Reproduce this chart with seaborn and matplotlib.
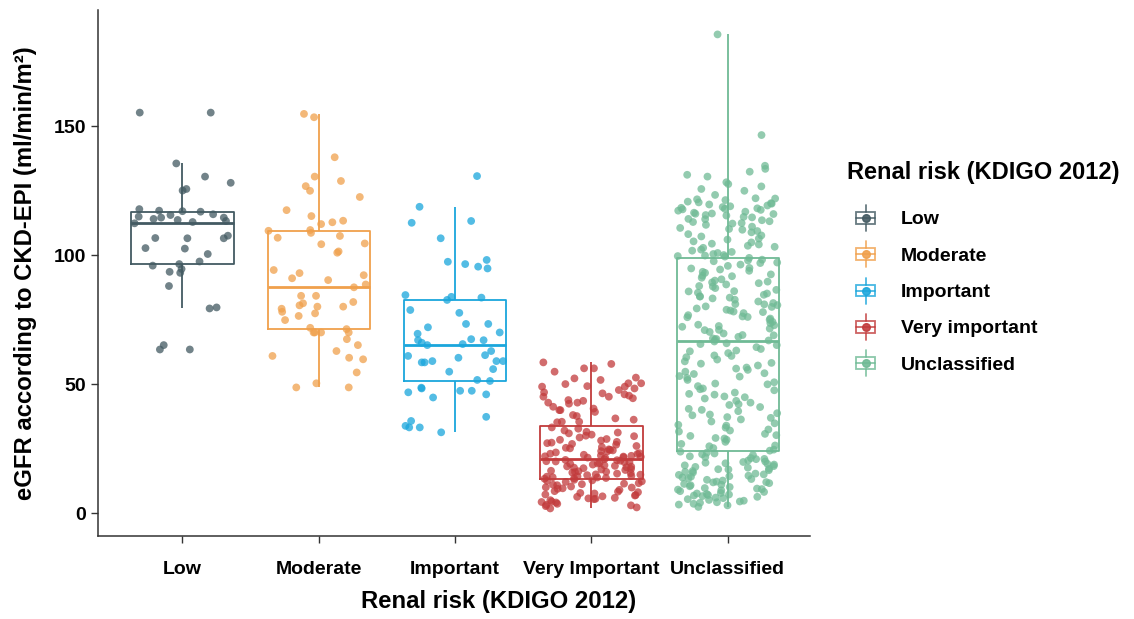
import numpy as np
import pandas as pd
import matplotlib
matplotlib.use("Agg")
import matplotlib.pyplot as plt
import seaborn as sns
from matplotlib.legend_handler import HandlerBase
from matplotlib.patches import Rectangle, Patch
from matplotlib.lines import Line2D

categories = ["Low", "Moderate", "Important", "Very Important", "Unclassified"]
legend_labels = ["Low", "Moderate", "Important", "Very important", "Unclassified"]
colors = ["#435a62", "#f0a04c", "#1aa6dc", "#c23b3c", "#6fba95"]

low_vals = [155.2, 155.2, 135.5, 130.4, 128.0, 125.6, 125.0, 117.8, 117.2, 117.0,
            116.8, 115.8, 115.5, 114.9, 114.5, 114.5, 114.0, 113.6, 113.2, 112.3,
            112.8, 107.5, 106.6, 106.5, 106.5, 102.7, 102.5, 100.4, 97.5, 96.5,
            95.9, 94.6, 93.5, 93.1, 88.0, 79.7, 79.3, 65.1, 63.4, 63.4]

moderate_vals = [153.4, 154.7, 137.9, 126.7, 130.4, 128.7, 124.9, 122.5, 117.4, 113.3,
                 108.6, 115.1, 112.7, 112.0, 109.7, 109.4, 106.7, 107.4, 104.2, 101.4,
                 104.5, 100.9, 94.2, 93.0, 90.3, 91.0, 88.6, 92.2, 87.5, 84.2,
                 81.8, 79.2, 80.5, 77.4, 80.0, 80.0, 78.0, 81.3, 84.2, 76.4,
                 74.8, 71.8, 70.0, 71.3, 70.0, 70.0, 70.0, 67.4, 65.1, 62.8,
                 60.2, 59.6, 60.9, 54.5, 48.7, 50.3, 48.7]

important_vals = [130.6, 118.7, 113.2, 112.5, 106.5, 98.1, 97.4, 96.5, 95.5, 94.8,
                  83.5, 84.5, 82.6, 83.8, 78.7, 77.6, 73.3, 73.3, 70.0, 69.5,
                  72.0, 67.4, 67.0, 65.1, 65.5, 66.0, 67.0, 62.8, 60.9, 60.2,
                  61.2, 58.9, 58.9, 58.4, 55.8, 58.9, 58.4, 54.8, 51.6, 51.2,
                  48.3, 47.4, 46.0, 47.4, 48.6, 46.8, 44.8, 37.3, 33.2, 33.8,
                  31.3, 35.7, 33.2]

very_important_vals = [
    58.4, 56.1, 57.8, 56.1, 54.8, 52.2, 51.6, 52.5, 50.3, 50.0,
    49.0, 49.0, 48.3, 49.2, 47.7, 50.3, 46.4, 45.5, 45.1, 43.8,
    42.4, 41.2, 44.5, 46.8, 45.1, 42.8, 42.8, 43.5, 39.9, 40.5,
    39.2, 38.0, 36.7, 35.2, 39.9, 37.6, 35.4, 35.4, 36.2, 46.0,
    33.2, 32.7, 32.0, 31.5, 30.9, 30.4, 29.8, 29.3, 28.7, 28.1,
    27.6, 27.1, 26.5, 26.0, 25.6, 25.1, 24.7, 24.3, 23.9, 23.5,
    23.2, 22.9, 22.6, 22.3, 22.0, 21.8, 21.6, 21.4, 31.2, 28.4,
    26.8, 25.3, 24.0, 23.0, 22.2, 21.5, 30.0, 27.3, 24.5, 21.9,
    20.9, 20.6, 20.3, 20.0, 19.7, 19.4, 19.1, 18.8, 18.5, 18.1,
    17.8, 17.4, 17.1, 16.7, 16.4, 16.0, 15.7, 15.3, 15.0, 14.7,
    14.4, 14.1, 13.8, 13.5, 13.3, 20.5, 19.2, 18.0, 16.9, 15.9,
    14.9, 13.9, 20.1, 18.3, 16.2, 14.2, 19.8, 17.6, 15.5, 13.6,
    12.9, 12.5, 12.1, 11.6, 11.2, 10.8, 10.3, 9.9, 9.4, 9.0,
    8.5, 8.1, 7.6, 7.2, 6.8, 6.3, 5.9, 5.4, 5.0, 4.5,
    4.1, 3.6, 3.2, 2.7, 2.2, 1.8, 12.7, 11.0, 9.6, 8.3,
    7.0, 5.7, 4.3, 12.3, 10.0, 7.8, 5.5, 3.0, 11.4, 6.5]

unclassified_vals = [
    185.5, 146.5, 134.6, 133.4, 132.3, 131.1, 130.4, 128.2, 127.5, 126.6,
    125.6, 124.9, 123.3, 122.0, 121.6, 121.3, 120.7, 120.4, 119.9, 119.6,
    119.2, 118.9, 118.3, 118.1, 117.7, 117.5, 117.2, 116.8, 116.4, 116.1,
    115.9, 115.3, 114.8, 114.6, 114.0, 113.5, 113.1, 112.8, 112.2, 111.7,
    111.0, 110.5, 110.1, 109.3, 108.8, 108.1, 107.6, 107.2, 106.4, 106.0,
    105.3, 104.9, 104.1, 103.6, 103.2, 102.8, 102.1, 101.7, 101.2, 100.8,
    100.4, 100.0, 99.8, 99.6, 99.4, 113.9, 118.6, 120.1, 116.0, 112.4,
    109.8, 115.5, 117.9, 121.9, 104.4,
    98.9, 98.2, 97.6, 97.1, 96.3, 95.8, 95.0, 94.4, 93.9, 93.1,
    92.5, 91.8, 91.2, 90.6, 89.7, 89.1, 88.6, 87.8, 87.2, 86.5,
    85.9, 85.1, 84.6, 83.9, 83.2, 82.7, 82.0, 81.4, 80.6, 80.1,
    79.3, 78.8, 78.1, 77.5, 76.7, 76.2, 75.4, 74.9, 74.1, 73.6,
    72.8, 72.2, 71.5, 70.9, 70.2, 69.6, 68.9, 68.3, 67.7, 67.2,
    66.9, 96.9, 94.8, 92.0, 90.1, 88.0, 86.0, 84.0, 81.0, 79.9,
    77.9, 75.9, 73.0, 71.0, 69.0, 67.5, 93.5, 89.4, 85.4, 80.9,
    76.0, 72.5, 97.9, 83.5, 78.5,
    66.5, 65.8, 65.1, 64.3, 63.6, 62.7, 62.0, 61.1, 60.4, 59.5,
    58.8, 57.9, 57.2, 56.4, 55.5, 54.8, 53.9, 53.1, 52.4, 51.6,
    50.7, 49.9, 49.2, 48.3, 47.6, 46.7, 45.9, 45.2, 44.4, 43.5,
    42.8, 41.9, 41.1, 40.4, 39.5, 38.7, 37.9, 37.2, 36.3, 35.5,
    34.8, 33.9, 33.1, 32.4, 31.6, 30.7, 29.9, 29.1, 28.4, 27.6,
    26.8, 25.9, 25.2, 24.6, 24.2, 63.0, 58.2, 54.2, 50.2, 46.2,
    42.2, 38.2, 34.2, 30.2, 26.2, 60.9, 52.9, 44.9, 36.9, 28.9,
    56.0, 48.0, 40.0, 32.0, 65.5,
    23.8, 23.1, 22.5, 21.7, 21.0, 20.4, 19.8, 19.1, 18.5, 17.9,
    17.2, 16.6, 16.0, 15.3, 14.8, 14.1, 13.5, 12.9, 12.2, 11.6,
    11.0, 10.4, 9.7, 9.1, 8.5, 7.8, 7.2, 6.6, 6.0, 5.4,
    4.8, 4.2, 3.6, 3.0, 2.4, 23.4, 22.0, 20.9, 19.5, 18.2,
    17.0, 15.7, 14.5, 13.2, 12.0, 10.8, 9.5, 8.2, 7.0, 5.8,
    4.5, 22.8, 20.0, 17.6, 15.0, 12.6, 10.1, 7.6, 5.1, 21.3,
    18.8, 16.3, 13.8, 11.3, 8.8, 6.3, 4.0, 19.3, 14.3, 9.3,
    6.8, 3.3, 16.9, 11.9, 7.4]

y_ticks = [0, 50, 100, 150]

groups = [low_vals, moderate_vals, important_vals, very_important_vals, unclassified_vals]
df = pd.DataFrame({
    "group": np.concatenate([[c] * len(v) for c, v in zip(categories, groups)]),
    "value": np.concatenate(groups),
})

sns.set_style("ticks")
plt.rcParams["font.family"] = ["Liberation Sans", "DejaVu Sans"]
plt.rcParams["font.weight"] = "bold"
plt.rcParams["text.color"] = "black"
plt.rcParams["axes.labelcolor"] = "black"

fig = plt.figure(figsize=(11.34, 6.19), dpi=100)
ax = fig.add_axes([0.0864, 0.134, 0.6275, 0.85])

sns.boxplot(data=df, x="group", y="value", hue="group", order=categories,
            hue_order=categories, palette=colors, fill=False, showfliers=False,
            showcaps=False, width=0.75, linewidth=1.3, legend=False, ax=ax,
            medianprops=dict(linewidth=2.0))

np.random.seed(7)
sns.stripplot(data=df, x="group", y="value", hue="group", order=categories,
              hue_order=categories, palette=colors, jitter=0.37, size=5.6,
              alpha=0.75, linewidth=0, legend=False, ax=ax, zorder=3)

ax.set_xlim(-0.62, 4.6)
ax.set_ylim(-8.9, 195)
ax.set_yticks(y_ticks)
ax.set_xlabel("Renal risk (KDIGO 2012)", fontsize=17.2, fontweight="bold",
              color="black")
ax.xaxis.set_label_coords(0.563, -0.103)
ax.set_ylabel("eGFR according to CKD-EPI (ml/min/m²)", fontsize=17.2,
              fontweight="bold", labelpad=12, color="black")
ax.tick_params(axis="both", labelsize=14, length=5, width=1, color="#333333",
               labelcolor="black")
for lab in ax.get_xticklabels() + ax.get_yticklabels():
    lab.set_fontweight("bold")
ax.tick_params(axis="x", pad=13)
for s in ["top", "right"]:
    ax.spines[s].set_visible(False)
for s in ["left", "bottom"]:
    ax.spines[s].set_color("#333333")
    ax.spines[s].set_linewidth(1.1)
ax.grid(False)


class BoxHandler(HandlerBase):
    def create_artists(self, legend, orig_handle, xdescent, ydescent, width,
                       height, fontsize, trans):
        c = orig_handle.get_facecolor()
        x0, y0 = -xdescent, -ydescent
        cx, cy = x0 + width / 2, y0 + height / 2
        bw, bh = width * 0.68, height * 0.5
        kw = dict(color=c, lw=1.3, alpha=0.8, transform=trans)
        rect = Rectangle((cx - bw / 2, cy - bh / 2), bw, bh, fill=False,
                         edgecolor=c, lw=1.3, alpha=0.8, transform=trans)
        w1 = Line2D([cx, cx], [cy + bh / 2, y0 + height * 1.05], **kw)
        w2 = Line2D([cx, cx], [y0 - height * 0.05, cy - bh / 2], **kw)
        med = Line2D([cx - bw / 2, cx + bw / 2], [cy, cy], **kw)
        dot = Line2D([cx], [cy], marker="o", ms=5.5, ls="none", color=c,
                     alpha=0.9, transform=trans)
        return [rect, w1, w2, med, dot]


fig.text(847 / 1134, 1 - 172 / 619, "Renal risk (KDIGO 2012)", ha="left",
         va="center", fontsize=17.0, fontweight="bold", color="black")

handles = [Patch(facecolor=c) for c in colors]
leg = fig.legend(handles, legend_labels, handler_map={Patch: BoxHandler()},
                 loc="upper left", bbox_to_anchor=(0.736, 0.6955), frameon=False,
                 prop={"weight": "bold", "size": 14}, handlelength=1.4,
                 handleheight=1.5, labelspacing=0.65, handletextpad=1.1,
                 labelcolor="black")

fig.savefig("out.png", dpi=100)
